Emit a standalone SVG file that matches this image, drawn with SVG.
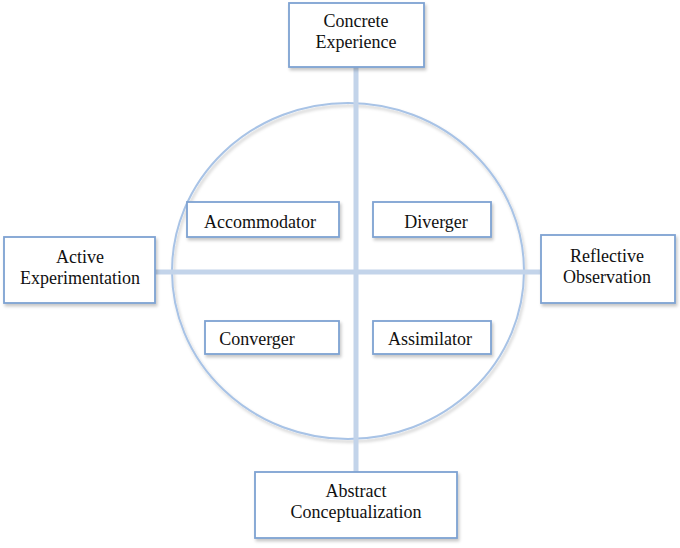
<svg xmlns="http://www.w3.org/2000/svg" width="680" height="548" viewBox="0 0 680 548">
<defs>
<filter id="sh" x="-10%" y="-10%" width="130%" height="140%">
<feDropShadow dx="1.5" dy="2.5" stdDeviation="1.5" flood-color="#000" flood-opacity="0.22"/>
</filter>
</defs>
<style>
.box{fill:#fff;stroke:#7ea2d2;stroke-width:1.8;filter:url(#sh)}
.t{font-family:'Liberation Serif','Times New Roman',Times,serif;font-size:18px;fill:#111;text-anchor:middle}
.ax{stroke:#c3d4ea;stroke-width:5;fill:none}
.ring{fill:none;stroke:#a8c3e6;stroke-width:2;filter:url(#sh)}
</style>
<rect width="680" height="548" fill="#fff"/>
<g id="circle"><ellipse class="ring" cx="348" cy="271" rx="176" ry="168"/></g>
<g id="connectors">
<line class="ax" x1="356" y1="67" x2="356" y2="472"/>
<line class="ax" x1="155" y1="272" x2="541" y2="272"/>
</g>
<g font-family="Liberation Serif, Times New Roman, serif">
<g id="concrete"><rect class="box" x="289" y="3" width="135" height="64"/><text class="t" x="356" y="27">Concrete</text><text class="t" x="356" y="48">Experience</text></g>
<g id="active"><rect class="box" x="4" y="237" width="151" height="66"/><text class="t" x="80" y="263">Active</text><text class="t" x="80" y="284">Experimentation</text></g>
<g id="reflective"><rect class="box" x="541" y="235" width="134" height="68"/><text class="t" x="607" y="262">Reflective</text><text class="t" x="607" y="283">Observation</text></g>
<g id="abstract"><rect class="box" x="255" y="472" width="202" height="66"/><text class="t" x="356" y="497">Abstract</text><text class="t" x="356" y="518">Conceptualization</text></g>
<g id="accommodator"><rect class="box" x="187" y="202" width="152" height="35"/><text class="t" x="260" y="228">Accommodator</text></g>
<g id="diverger"><rect class="box" x="373" y="202" width="118" height="35"/><text class="t" x="436" y="228">Diverger</text></g>
<g id="converger"><rect class="box" x="205" y="321" width="134" height="33"/><text class="t" x="257" y="345">Converger</text></g>
<g id="assimilator"><rect class="box" x="373" y="321" width="118" height="33"/><text class="t" x="430" y="345">Assimilator</text></g>
</g>
</svg>
